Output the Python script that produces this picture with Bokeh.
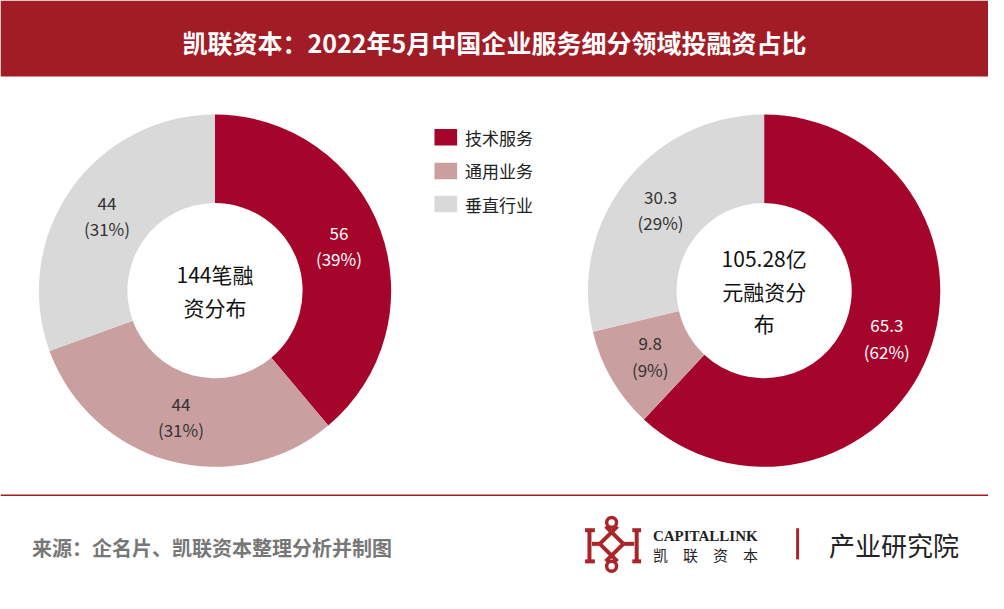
import math
from bokeh.plotting import figure
from bokeh.models import Range1d
from bokeh.core.properties import value
from bokeh.embed import file_html
from bokeh.resources import INLINE

# chart data
title = "凯联资本：2022年5月中国企业服务细分领域投融资占比"
source_note = "来源：企名片、凯联资本整理分析并制图"
categories = ["技术服务", "通用业务", "垂直行业"]
deal_counts = [56, 44, 44]
deal_amounts = [65.3, 9.8, 30.3]
count_center = ["144笔融", "资分布"]
amount_center = ["105.28亿", "元融资分", "布"]

colors = ["#A5052B", "#C9A09F", "#D9D9D9"]
label_colors = ["white", "#333333", "#333333"]
FONT = "Noto Sans CJK SC"
DARK_RED = "#A11C25"

W, H = 1004, 609
def Y(ypix):
    # reference pixel row -> data y (y up)
    return H - ypix

R_OUT, R_IN = 179, 89
R_MID = (R_OUT + R_IN) / 2

p = figure(width=988, height=593, x_range=Range1d(0, W), y_range=Range1d(0, H),
           output_backend="svg", toolbar_location=None, min_border=0, tools="")
p.axis.visible = False
p.grid.visible = False
p.outline_line_color = None

# header band and title
p.quad(left=[0], right=[W], top=[Y(0)], bottom=[Y(78)], color=DARK_RED, line_color=None)
p.text(x=[502], y=[Y(43)], text=[title], text_font=value(FONT), text_font_style="bold",
       text_font_size="25px", text_color="white", text_align="center", text_baseline="middle")


def donut(cx, cy, vals, center_lines):
    total = sum(vals)
    start = math.pi / 2
    starts, ends, lx, ly = [], [], [], []
    for v in vals:
        end = start - 2 * math.pi * v / total
        starts.append(start)
        ends.append(end)
        mid = (start + end) / 2
        lx.append(cx + R_MID * math.cos(mid))
        ly.append(cy + R_MID * math.sin(mid))
        start = end
    n = len(vals)
    p.annular_wedge(x=[cx] * n, y=[cy] * n, inner_radius=R_IN, outer_radius=R_OUT,
                    start_angle=starts, end_angle=ends, direction="clock",
                    fill_color=colors, line_color=None)
    val_txt = [f"{v:g}" for v in vals]
    pct_txt = [f"({round(v / total * 100)}%)" for v in vals]
    p.text(x=lx, y=[y + 13 for y in ly], text=val_txt, text_font=value(FONT),
           text_font_size="17px", text_color=label_colors, text_align="center", text_baseline="middle")
    p.text(x=lx, y=[y - 13 for y in ly], text=pct_txt, text_font=value(FONT),
           text_font_size="17px", text_color=label_colors, text_align="center", text_baseline="middle")
    k = len(center_lines)
    cys = [cy + 33.5 * ((k - 1) / 2 - i) for i in range(k)]
    p.text(x=[cx] * k, y=cys, text=center_lines, text_font=value(FONT),
           text_font_size="21px", text_color="#111111", text_align="center", text_baseline="middle")


donut(218, Y(298), deal_counts, count_center)
donut(776, Y(298), deal_amounts, amount_center)

# legend
leg_y = [Y(140.5), Y(175), Y(209)]
p.rect(x=[452.5] * 3, y=leg_y, width=23, height=17, fill_color=colors, line_color=None)
p.text(x=[472] * 3, y=leg_y, text=categories, text_font=value(FONT), text_font_size="17px",
       text_color="#222222", text_align="left", text_baseline="middle")

# footer
p.segment(x0=[0], y0=[Y(508)], x1=[W], y1=[Y(508)], line_color=DARK_RED, line_width=1.5)
p.text(x=[32], y=[Y(562)], text=[source_note], text_font=value(FONT), text_font_style="bold",
       text_font_size="20px", text_color="#777777", text_align="left", text_baseline="middle")

# logo (simplified mark)
LOGO = "#A8262A"
lx0 = [598.5, 594, 594, 646.5, 642, 642, 601, 633, 609, 633, 609, 633]
ly0 = [544, 544, 576, 544, 544, 576, 558, 558, 558, 558, 558, 558]
lx1 = [598.5, 604, 604, 646.5, 651, 651, 609, 644, 627, 615, 627, 615]
ly1 = [576, 544, 576, 576, 544, 576, 558, 558, 540, 540, 576, 576]
p.segment(x0=lx0, y0=[Y(v) for v in ly0], x1=lx1, y1=[Y(v) for v in ly1],
          line_color=LOGO, line_width=4)
p.circle(x=[621, 621], y=[Y(536), Y(581)], radius=5, fill_color=None, line_color=LOGO, line_width=3.5)
p.text(x=[663], y=[Y(550)], text=["CAPITALLINK"], text_font=value("Liberation Serif"),
       text_font_style="bold", text_font_size="15px", text_color="#222222",
       text_align="left", text_baseline="middle")
p.text(x=[663], y=[Y(569)], text=["凯　联　资　本"], text_font=value(FONT),
       text_font_size="15px", text_color="#222222", text_align="left", text_baseline="middle")
p.segment(x0=[810], y0=[Y(542)], x1=[810], y1=[Y(574)], line_color=LOGO, line_width=3)
p.text(x=[842], y=[Y(559)], text=["产业研究院"], text_font=value(FONT),
       text_font_size="26px", text_color="#222222", text_align="left", text_baseline="middle")

open("out.html", "w").write(file_html(p, INLINE))
